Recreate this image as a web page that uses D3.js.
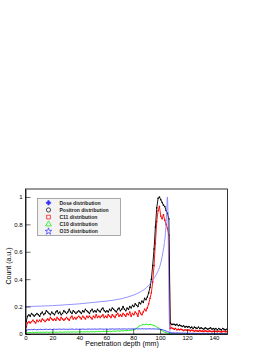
<!DOCTYPE html>
<html><head><meta charset="utf-8">
<script src="https://cdn.jsdelivr.net/npm/d3@7"></script>
<style>html,body{margin:0;padding:0;background:#fff;}svg{display:block;}</style>
</head><body>
<script>
// ---- data (1 mm bins, depth 0..149 mm) ----
const positron = [
0.09,0.13,0.14,0.13,0.15,0.14,0.13,0.14,0.15,0.14,
0.13,0.15,0.16,0.14,0.15,0.17,0.16,0.15,0.14,0.16,
0.15,0.14,0.16,0.17,0.15,0.16,0.14,0.15,0.17,0.16,
0.15,0.16,0.18,0.16,0.15,0.17,0.16,0.15,0.16,0.17,
0.16,0.15,0.17,0.16,0.18,0.17,0.16,0.15,0.17,0.18,
0.16,0.17,0.16,0.18,0.17,0.16,0.18,0.19,0.17,0.16,
0.17,0.16,0.18,0.17,0.19,0.18,0.17,0.16,0.18,0.19,
0.17,0.18,0.20,0.18,0.17,0.19,0.18,0.20,0.19,0.21,
0.20,0.22,0.21,0.20,0.23,0.22,0.24,0.23,0.26,0.25,
0.27,0.30,0.34,0.40,0.50,0.62,0.78,0.92,0.99,1.00,
0.98,0.96,0.94,0.93,0.90,0.88,0.84,0.08,0.07,0.07,
0.07,0.065,0.07,0.06,0.065,0.06,0.055,0.06,0.05,0.055,
0.05,0.055,0.045,0.05,0.04,0.05,0.045,0.04,0.05,0.04,
0.045,0.04,0.035,0.045,0.04,0.035,0.04,0.045,0.035,0.04,
0.035,0.04,0.03,0.04,0.035,0.03,0.04,0.035,0.03,0.035];
const c11 = [
0.05,0.08,0.09,0.08,0.09,0.10,0.09,0.08,0.10,0.09,
0.10,0.09,0.11,0.10,0.09,0.10,0.11,0.10,0.12,0.11,
0.10,0.11,0.10,0.12,0.11,0.10,0.12,0.11,0.10,0.11,
0.12,0.11,0.10,0.12,0.13,0.11,0.12,0.11,0.12,0.13,
0.12,0.11,0.13,0.12,0.11,0.13,0.12,0.13,0.12,0.11,
0.13,0.12,0.14,0.12,0.13,0.12,0.13,0.14,0.12,0.13,
0.12,0.14,0.13,0.12,0.14,0.13,0.12,0.14,0.15,0.13,
0.14,0.13,0.15,0.14,0.13,0.15,0.14,0.16,0.13,0.15,
0.14,0.16,0.15,0.13,0.17,0.15,0.14,0.16,0.18,0.17,
0.19,0.22,0.26,0.30,0.38,0.50,0.66,0.82,0.90,0.93,
0.86,0.84,0.87,0.83,0.80,0.77,0.72,0.04,0.045,0.04,
0.035,0.04,0.03,0.035,0.03,0.035,0.03,0.025,0.03,0.028,
0.025,0.03,0.022,0.028,0.025,0.02,0.025,0.022,0.02,0.025,
0.02,0.022,0.018,0.024,0.02,0.018,0.022,0.02,0.017,0.02,
0.018,0.02,0.016,0.02,0.018,0.015,0.018,0.02,0.016,0.018];
const c10 = [
0.008,0.01,0.012,0.01,0.011,0.013,0.01,0.012,0.011,0.013,
0.012,0.014,0.011,0.013,0.012,0.014,0.013,0.011,0.014,0.012,
0.013,0.015,0.012,0.014,0.013,0.015,0.014,0.012,0.015,0.014,
0.014,0.016,0.013,0.015,0.014,0.016,0.015,0.013,0.016,0.015,
0.015,0.017,0.014,0.016,0.015,0.017,0.016,0.015,0.018,0.016,
0.017,0.016,0.018,0.017,0.019,0.017,0.018,0.02,0.018,0.019,
0.02,0.018,0.021,0.019,0.02,0.022,0.02,0.021,0.023,0.021,
0.022,0.024,0.022,0.025,0.023,0.026,0.025,0.027,0.026,0.03,
0.032,0.036,0.042,0.05,0.058,0.062,0.066,0.07,0.068,0.072,
0.07,0.066,0.071,0.068,0.065,0.062,0.058,0.052,0.045,0.038,
0.03,0.024,0.018,0.013,0.009,0.006,0.004,0.003,0.003,0.002,
0.003,0.002,0.003,0.002,0.003,0.002,0.002,0.003,0.002,0.002,
0.003,0.002,0.002,0.003,0.002,0.002,0.003,0.002,0.002,0.002,
0.002,0.003,0.002,0.002,0.002,0.003,0.002,0.002,0.002,0.002,
0.002,0.002,0.003,0.002,0.002,0.002,0.002,0.003,0.002,0.002];
const o15 = [
0.025,0.03,0.033,0.03,0.034,0.031,0.035,0.032,0.03,0.034,
0.032,0.035,0.031,0.034,0.033,0.036,0.032,0.034,0.035,0.032,
0.034,0.036,0.033,0.035,0.034,0.037,0.033,0.035,0.036,0.034,
0.035,0.033,0.036,0.034,0.037,0.035,0.033,0.036,0.035,0.034,
0.036,0.034,0.037,0.035,0.033,0.036,0.035,0.037,0.034,0.036,
0.035,0.037,0.034,0.036,0.035,0.038,0.035,0.036,0.034,0.037,
0.036,0.034,0.037,0.035,0.038,0.036,0.035,0.037,0.036,0.038,
0.035,0.037,0.036,0.038,0.036,0.035,0.038,0.037,0.036,0.038,
0.037,0.036,0.039,0.037,0.038,0.036,0.039,0.037,0.038,0.036,
0.038,0.037,0.039,0.036,0.038,0.037,0.036,0.037,0.035,0.036,
0.034,0.032,0.029,0.025,0.021,0.017,0.013,0.01,0.009,0.008,
0.008,0.007,0.008,0.007,0.007,0.006,0.007,0.006,0.006,0.006,
0.005,0.006,0.005,0.005,0.006,0.005,0.005,0.004,0.005,0.005,
0.004,0.005,0.004,0.004,0.005,0.004,0.004,0.004,0.003,0.004,
0.004,0.003,0.004,0.003,0.004,0.003,0.003,0.004,0.003,0.003];
const doseDepth = [0,10,20,30,40,50,60,70,80,85,90,95,98,100,101,102,103,104,104.5,105,105.4,105.8,106.2,106.6,107,107.5,108,110,130,150];
const doseValue = [0.2,0.203,0.207,0.213,0.22,0.23,0.24,0.255,0.283,0.305,0.34,0.40,0.45,0.5,0.54,0.59,0.65,0.74,0.82,0.93,1.0,0.9,0.6,0.25,0.06,0.01,0.004,0.003,0.002,0.002];
const xTicks = [0,20,40,60,80,100,120,140];
const yTicks = [0,0.2,0.4,0.6,0.8,1];
const legendLabels = ["Dose distribution","Positron distribution","C11 distribution","C10 distribution","O15 distribution"];
const legendColors = ["#3333ff","#000000","#ff0000","#00ee00","#3333ff"];
const legendShapes = [d3.symbolCross, d3.symbolCircle, d3.symbolSquare, d3.symbolTriangle, d3.symbolStar];

// ---- drawing ----
const W = 273, H = 353;
const svg = d3.select("body").append("svg").attr("width", W).attr("height", H);
const x = d3.scaleLinear().domain([0,150]).range([25.5,227.4]);
const y = d3.scaleLinear().domain([0,1.058]).range([334,189]);
const font = "Liberation Sans, Arial, sans-serif";

const plot = svg.append("g");
const clip = svg.append("clipPath").attr("id","clip").append("rect")
  .attr("x", x(0)).attr("y", y(1.058)).attr("width", x(150)-x(0)).attr("height", y(0)-y(1.058));
const area = plot.append("g").attr("clip-path","url(#clip)");

function series(vals, color, width, sym) {
  const pts = vals.map((v,i)=>[i+0.5, v]);
  area.append("path").datum(pts)
    .attr("d", d3.line().x(d=>x(d[0])).y(d=>y(d[1])))
    .attr("fill","none").attr("stroke",color).attr("stroke-width",width);
  if (sym) {
    area.selectAll(null).data(pts).enter().append("path")
      .attr("d", d3.symbol().type(sym).size(2))
      .attr("transform", d=>`translate(${x(d[0])},${y(d[1])})`)
      .attr("fill", color);
  }
}
series(c10, "#00ee00", 0.9, null);
series(o15, "#3333ff", 0.9, null);
series(c11, "#ff0000", 0.9, d3.symbolSquare);
series(positron, "#000000", 0.9, d3.symbolCircle);
// dose line
area.append("path").datum(doseDepth.map((d,i)=>[d, doseValue[i]]))
  .attr("d", d3.line().x(d=>x(d[0])).y(d=>y(d[1])).curve(d3.curveMonotoneX))
  .attr("fill","none").attr("stroke","#7777ff").attr("stroke-width",0.8);

// frame
svg.append("rect").attr("x",x(0)).attr("y",y(1.058)).attr("width",x(150)-x(0)).attr("height",y(0)-y(1.058))
  .attr("fill","none").attr("stroke","#000").attr("stroke-width",0.8);

// axes
const xMinor = d3.range(0,151,5);
const yMinor = d3.range(0,1.05,0.04);
const gx = svg.append("g").attr("transform",`translate(0,${y(0)})`);
gx.call(d3.axisBottom(x).tickValues(xMinor).tickSize(-2.5).tickFormat(""));
gx.call(d3.axisBottom(x).tickValues(xTicks).tickSizeInner(-5).tickSizeOuter(0).tickPadding(2).tickFormat(d3.format("d")));
const gy = svg.append("g").attr("transform",`translate(${x(0)},0)`);
gy.call(d3.axisLeft(y).tickValues(yMinor).tickSize(-2.5).tickFormat(""));
gy.call(d3.axisLeft(y).tickValues(yTicks).tickSizeInner(-5).tickSizeOuter(0).tickPadding(3).tickFormat(d3.format("~g")));
svg.selectAll(".domain").attr("stroke","#000").attr("stroke-width",0.8);
svg.selectAll(".tick line").attr("stroke","#000").attr("stroke-width",0.6);
svg.selectAll(".tick text").attr("font-family",font).attr("font-size",6).attr("fill","#000");

// axis titles
svg.append("text").attr("x",122).attr("y",346).attr("text-anchor","middle")
  .attr("font-family",font).attr("font-size",7).text("Penetration depth (mm)");
svg.append("text").attr("transform","translate(11,266) rotate(-90)").attr("text-anchor","middle")
  .attr("font-family",font).attr("font-size",7).text("Count (a.u.)");

// legend
const lg = svg.append("g");
lg.append("rect").attr("x",37.5).attr("y",198.5).attr("width",83).attr("height",37)
  .attr("fill","#f3f3f3").attr("stroke","#888").attr("stroke-width",0.7);
legendLabels.forEach((t,i)=>{
  const yy = 202.8 + i*7.15;
  const filled = i===0;
  lg.append("path").attr("d", d3.symbol().type(legendShapes[i]).size(filled?10:14)())
    .attr("transform",`translate(48.5,${yy})`)
    .attr("fill", filled ? legendColors[i] : "none")
    .attr("stroke", legendColors[i]).attr("stroke-width",0.7);
  lg.append("text").attr("x",59.5).attr("y",yy+1.8)
    .attr("font-family",font).attr("font-size",5).attr("font-weight","bold").attr("fill","#222").text(t);
});
</script>
</body></html>
